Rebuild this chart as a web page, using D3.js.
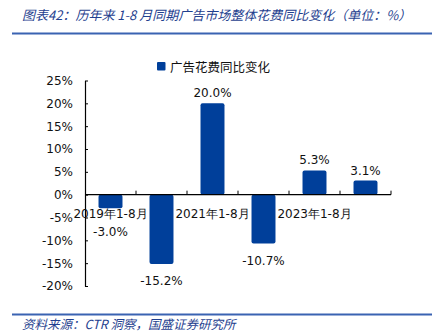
<!DOCTYPE html>
<html>
<head>
<meta charset="utf-8">
<script src="https://cdn.jsdelivr.net/npm/d3@7"></script>
<style>
  html, body { margin: 0; padding: 0; background: #fff; }
  svg { display: block; }
</style>
</head>
<body>
<svg id="chart" width="433" height="335"></svg>
<script>
// Year-on-year change in total ad spend, Jan–Aug of each year
const categories = ["2019年1-8月", "2020年1-8月", "2021年1-8月", "2022年1-8月", "2023年1-8月", "2024年1-8月"];
const values = [-3.0, -15.2, 20.0, -10.7, 5.3, 3.1];
const yTicks = [-20, -15, -10, -5, 0, 5, 10, 15, 20, 25];
const shownCategoryLabels = ["2019年1-8月", "2021年1-8月", "2023年1-8月"];
const seriesName = "广告花费同比变化";
const titleText = "图表42：历年来 1-8 月同期广告市场整体花费同比变化（单位：%）";
const sourceText = "资料来源：CTR 洞察，国盛证券研究所";

const svg = d3.select("#chart");
const font = "'DejaVu Sans', sans-serif";
const cjk = "'Noto Sans CJK SC', sans-serif";
const barColor = "#003f9a";
const ruleColor = "#3a63b2";
const titleColor = "#1f3f8f";

// Header
svg.append("text")
  .attr("x", 22).attr("y", 20)
  .attr("font-family", cjk).attr("font-size", 13).attr("font-style", "italic")
  .attr("fill", titleColor)
  .text(titleText);
svg.append("line")
  .attr("x1", 12).attr("x2", 432).attr("y1", 33.5).attr("y2", 33.5)
  .attr("stroke", ruleColor).attr("stroke-width", 2);

// Footer
svg.append("line")
  .attr("x1", 12).attr("x2", 432).attr("y1", 314.5).attr("y2", 314.5)
  .attr("stroke", ruleColor).attr("stroke-width", 2);
svg.append("text")
  .attr("x", 22).attr("y", 329)
  .attr("font-family", cjk).attr("font-size", 12.5).attr("font-style", "italic")
  .attr("fill", titleColor)
  .text(sourceText);

// Scales
const x = d3.scaleBand().domain(categories).range([85, 391]).paddingInner(0.53).paddingOuter(0.265);
const xEdges = d3.scaleBand().domain(categories).range([85, 391]).padding(0);
const y = d3.scaleLinear().domain([-20, 25]).range([286, 80.5]);

// Y axis
const yAxis = d3.axisLeft(y).tickValues(yTicks).tickSize(0).tickPadding(12)
  .tickFormat(d => d + "%");
const gy = svg.append("g").attr("transform", "translate(85,0)").call(yAxis);
gy.select(".domain").attr("stroke", "#000").attr("stroke-width", 1.2);
gy.selectAll("text").attr("font-family", font).attr("font-size", 12).attr("fill", "#111");
gy.selectAll(".tick").append("line")
  .attr("x1", 0).attr("x2", 3).attr("stroke", "#000");

// Bars
svg.append("g").selectAll("rect").data(values).join("rect")
  .attr("x", (d, i) => x(categories[i]))
  .attr("width", x.bandwidth())
  .attr("y", d => y(Math.max(0, d)))
  .attr("height", d => Math.abs(y(d) - y(0)))
  .attr("rx", 2)
  .attr("fill", barColor);

// X axis along zero
const gx = svg.append("g").attr("transform", `translate(0,${y(0)})`);
gx.append("line").attr("x1", 85).attr("x2", 391).attr("stroke", "#000").attr("stroke-width", 1.2);
gx.selectAll("line.tick").data(categories.slice(1).concat([null])).join("line")
  .attr("class", "tick")
  .attr("x1", d => d === null ? 391 : xEdges(d))
  .attr("x2", d => d === null ? 391 : xEdges(d))
  .attr("y1", 0).attr("y2", -4)
  .attr("stroke", "#000");
gx.selectAll("text").data(shownCategoryLabels).join("text")
  .attr("x", d => x(d) + x.bandwidth() / 2)
  .attr("y", 23)
  .attr("text-anchor", "middle")
  .attr("font-family", font).attr("font-size", 12).attr("fill", "#111")
  .text(d => d);

// Value labels: negative ones sit below the bar end, and below the category labels when the bar is short
svg.append("g").selectAll("text").data(values).join("text")
  .attr("x", (d, i) => x(categories[i]) + x.bandwidth() / 2)
  .attr("y", d => d >= 0 ? y(d) - 6 : Math.max(y(d) + 21, y(0) + 41))
  .attr("text-anchor", "middle")
  .attr("font-family", font).attr("font-size", 12).attr("fill", "#111")
  .text(d => d.toFixed(1) + "%");

// Legend
const lg = svg.append("g").attr("transform", "translate(157,62)");
lg.append("rect").attr("width", 8.5).attr("height", 8.5).attr("rx", 1).attr("fill", barColor);
lg.append("text").attr("x", 13).attr("y", 9.5)
  .attr("font-family", cjk).attr("font-size", 12.5).attr("fill", "#111")
  .text(seriesName);
</script>
</body>
</html>
